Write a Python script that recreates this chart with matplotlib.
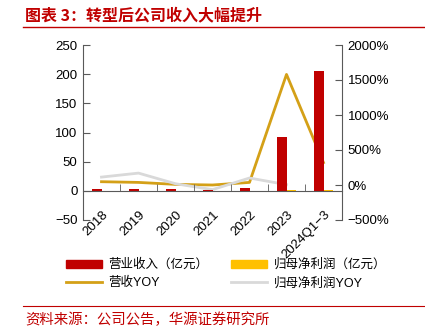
import matplotlib.pyplot as plt
import numpy as np
from matplotlib.lines import Line2D

plt.rcParams['font.family'] = ['Liberation Sans', 'Noto Sans CJK SC']
plt.rcParams['axes.unicode_minus'] = True

categories = ['2018', '2019', '2020', '2021', '2022', '2023', '2024Q1−3']
revenue = [3.5, 3.5, 3.5, 1.5, 4.5, 93, 206]
profit = [0.3, 0.4, 0.3, -0.8, 0.4, 1.0, 1.5]
revenue_yoy = [47, 37, 9, 0, 37, 1580, 320]
profit_yoy = [113, 170, 18, -66, 100, 5]

red = '#C00000'
gold_bar = '#FFC000'
gold_line = '#D4A017'
grey = '#D9D9D9'
spine_col = '#595959'

fig = plt.figure(figsize=(4.25, 3.32), dpi=100)
ax = fig.add_axes([83/425, 1-220/332, (342-83)/425, (220-45)/332])
ax2 = ax.twinx()

x = np.arange(len(categories))
w = 0.27
ax.bar(x - w/2, revenue, w, color=red, zorder=2)
ax.bar(x + w/2, profit, w, color=gold_bar, zorder=2)
ax.set_xlim(-0.5, len(categories) - 0.5)
ax.set_ylim(-50, 250)
ax.set_yticks([-50, 0, 50, 100, 150, 200, 250])

ax2.plot(x, revenue_yoy, color=gold_line, lw=2, zorder=3)
ax2.plot(x[:len(profit_yoy)], profit_yoy, color=grey, lw=2, zorder=3)
ax2.set_ylim(-500, 2000)
ax2.set_yticks([-500, 0, 500, 1000, 1500, 2000])
ax2.set_yticklabels([f'{v}%'.replace('-', '−') for v in [-500, 0, 500, 1000, 1500, 2000]])

for a in (ax, ax2):
    a.spines['top'].set_visible(False)
    a.patch.set_visible(False)
ax.spines['right'].set_visible(False)
ax2.spines['left'].set_visible(False)
ax2.spines['bottom'].set_visible(False)
ax.spines['bottom'].set_position(('data', 0))
ax.spines['left'].set_color(spine_col)
ax.spines['bottom'].set_color(spine_col)
ax2.spines['right'].set_color(spine_col)
ax.set_zorder(ax2.get_zorder() + 1)

ax.tick_params(axis='y', direction='in', length=5, color=spine_col, labelsize=9.5, pad=4)
ax2.tick_params(axis='y', direction='in', length=5, color=spine_col, labelsize=9.5, pad=4)
ax.set_xticks(x)
ax.set_xticklabels(categories, rotation=45, ha='right', va='top', rotation_mode='anchor',
                   fontsize=9.5)
ax.tick_params(axis='x', which='major', length=0, pad=13)
ax.set_xticks(np.arange(0.5, len(categories) - 0.5), minor=True)
ax.tick_params(axis='x', which='minor', direction='in', length=5, color=spine_col)

handles = [
    plt.Rectangle((0, 0), 1, 1, color=red),
    Line2D([], [], color=gold_line, lw=2),
    plt.Rectangle((0, 0), 1, 1, color=gold_bar),
    Line2D([], [], color=grey, lw=2),
]
labels = ['营业收入（亿元）', '营收YOY', '归母净利润（亿元）', '归母净利润YOY']
fig.legend(handles, labels, ncol=2, loc='center', bbox_to_anchor=(226/425, 1-274/332),
           frameon=False, fontsize=9, handlelength=2.9, handleheight=0.6,
           handletextpad=0.5, columnspacing=1.8, labelspacing=0.5)

fig.text(25/425, 1-15/332, '图表 3：转型后公司收入大幅提升', color=red, fontsize=11.5,
         fontweight='bold', va='center', ha='left', family=['Noto Sans CJK SC'])
fig.add_artist(Line2D([23/425, 1], [1-27/332, 1-27/332], color=red, lw=1))
fig.add_artist(Line2D([23/425, 1], [1-306/332, 1-306/332], color=red, lw=0.8))
fig.text(25/425, 1-320/332, '资料来源：公司公告，华源证券研究所', color=red, fontsize=10.4,
         va='center', ha='left', family=['Noto Sans CJK SC'])

fig.savefig('out.png', dpi=100)
